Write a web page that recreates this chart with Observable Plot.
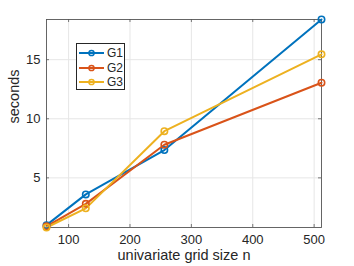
<!DOCTYPE html>
<html><head><meta charset="utf-8">
<script src="https://cdn.jsdelivr.net/npm/d3@7"></script>
<script src="https://cdn.jsdelivr.net/npm/@observablehq/plot@0.6"></script>
<style>
body{margin:0;background:#fff;}
#c{position:relative;width:354px;height:266px;font-family:"Liberation Sans",Arial,sans-serif;}
#legend{position:absolute;left:76px;top:43px;width:49px;height:47px;border:1px solid #262626;background:#fff;box-sizing:border-box;}
#legend .row{position:absolute;left:0;height:14px;display:flex;align-items:center;font-size:12px;color:#262626;}
</style>
</head><body><div id="c"></div>
<script>
const gridSize = [64, 128, 256, 512];
const seriesNames = ["G1", "G2", "G3"];
const g1 = [1.0, 3.6, 7.35, 18.4];
const g2 = [0.9, 2.8, 7.8, 13.05];
const g3 = [0.8, 2.42, 8.95, 15.45];
const xTicks = [100, 200, 300, 400, 500];
const yTicks = [5, 10, 15];
const colors = ["#0072BD", "#D95319", "#EDB120"];

const seriesValues = [g1, g2, g3];
const rows = [];
seriesNames.forEach((name, i) => gridSize.forEach((n, j) => rows.push({series: name, n, t: seriesValues[i][j]})));

const chart = Plot.plot({
  width: 354, height: 266,
  marginLeft: 46, marginRight: 33, marginTop: 19, marginBottom: 39,
  style: {fontFamily: '"Liberation Sans", Arial, sans-serif', color: "#262626", background: "#fff"},
  x: {domain: d3.extent(gridSize)},
  y: {domain: d3.extent(rows, d => d.t)},
  color: {domain: seriesNames, range: colors},
  marks: [
    Plot.gridX(xTicks, {stroke: "#e6e6e6", strokeOpacity: 1}),
    Plot.gridY(yTicks, {stroke: "#e6e6e6", strokeOpacity: 1}),
    Plot.axisX(xTicks, {tickSize: 0, tickPadding: 7, fontSize: 13, label: null}),
    Plot.axisY(yTicks, {tickSize: 0, tickPadding: 6, fontSize: 13, label: null}),
    Plot.tickX(xTicks, {stroke: "#262626", insetTop: 205, strokeWidth: 0.6}),
    Plot.tickX(xTicks, {stroke: "#262626", insetBottom: 205, strokeWidth: 0.6}),
    Plot.tickY(yTicks, {stroke: "#262626", insetLeft: 272, strokeWidth: 0.6}),
    Plot.tickY(yTicks, {stroke: "#262626", insetRight: 272, strokeWidth: 0.6}),
    Plot.frame({stroke: "#555", strokeWidth: 0.9}),
    Plot.line(rows, {x: "n", y: "t", stroke: "series", strokeWidth: 2}),
    Plot.dot(rows, {x: "n", y: "t", stroke: "series", r: 3.2, strokeWidth: 1.6, fill: "none"}),
    Plot.text(["univariate grid size n"], {frameAnchor: "bottom", dy: 32, fontSize: 14.5, fill: "#262626"}),
    Plot.text(["seconds"], {frameAnchor: "left", dx: -32, rotate: -90, fontSize: 14.5, fill: "#262626"})
  ]
});
const c = document.getElementById("c");
c.appendChild(chart);

const leg = document.createElement("div");
leg.id = "legend";
seriesNames.forEach((name, i) => {
  const r = document.createElement("div");
  r.className = "row";
  r.style.top = (2 + i * 14.5) + "px";
  r.innerHTML = `<svg width="29" height="14"><line x1="2" x2="27" y1="7" y2="7" stroke="${colors[i]}" stroke-width="2"/><circle cx="14.5" cy="7" r="2.6" fill="none" stroke="${colors[i]}" stroke-width="1.5"/></svg><span style="margin-left:1px">${name}</span>`;
  leg.appendChild(r);
});
c.appendChild(leg);
</script>
</body></html>
